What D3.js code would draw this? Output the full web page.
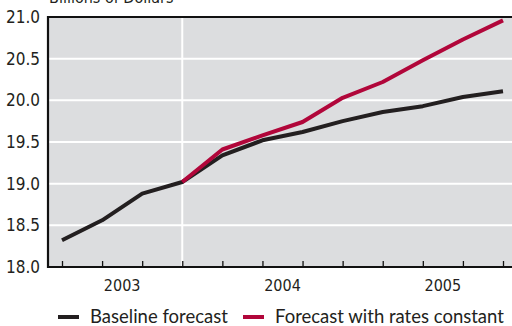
<!DOCTYPE html>
<html>
<head>
<meta charset="utf-8">
<script src="https://cdn.jsdelivr.net/npm/d3@7"></script>
<style>
  html, body { margin: 0; padding: 0; background: #fff; }
  svg { display: block; }
  .cond { font-family: 'Liberation Sans Narrow', 'DejaVu Sans Condensed', sans-serif; font-stretch: condensed; }
  .legend { font-family: 'Lato', 'Open Sans', sans-serif; }
</style>
</head>
<body>
<svg id="chart" width="512" height="326"></svg>
<script>
// Quarterly revenue, billions of dollars
const quarters = ["2003Q1","2003Q2","2003Q3","2003Q4",
                  "2004Q1","2004Q2","2004Q3","2004Q4",
                  "2005Q1","2005Q2","2005Q3","2005Q4"];
const years = ["2003", "2004", "2005"];
const baseline = [18.32, 18.56, 18.88, 19.02, 19.34, 19.52, 19.62, 19.75, 19.86, 19.93, 20.04, 20.11];
const ratesConstant = [null, null, null, 19.02, 19.41, 19.58, 19.74, 20.03, 20.22, 20.48, 20.73, 20.96];
const yTicks = [18.0, 18.5, 19.0, 19.5, 20.0, 20.5, 21.0];
const forecastStart = "2003Q4";
const yTitle = "Billions of Dollars";
const seriesNames = ["Baseline forecast", "Forecast with rates constant"];
const colors = { baseline: "#231f20", constant: "#b1063a", panel: "#dcdddf", grid: "#ffffff" };

const svg = d3.select("#chart");
const plot = { left: 48, right: 512, top: 17, bottom: 267 };

const x = d3.scalePoint().domain(quarters).range([62, 503]);
const y = d3.scaleLinear().domain([18, 21]).range([plot.bottom, plot.top]);

// panel background
svg.append("rect")
  .attr("x", plot.left).attr("y", plot.top)
  .attr("width", plot.right - plot.left).attr("height", plot.bottom - plot.top)
  .attr("fill", colors.panel);

// horizontal gridlines
svg.append("g").selectAll("line")
  .data(yTicks.filter(v => v > 18 && v < 21))
  .join("line")
  .attr("x1", plot.left).attr("x2", plot.right)
  .attr("y1", d => y(d)).attr("y2", d => y(d))
  .attr("stroke", colors.grid).attr("stroke-width", 2);

// start of forecast
svg.append("line")
  .attr("x1", x(forecastStart)).attr("x2", x(forecastStart))
  .attr("y1", plot.top).attr("y2", plot.bottom)
  .attr("stroke", colors.grid).attr("stroke-width", 2);

// frame: top, left, bottom
svg.append("path")
  .attr("d", `M${plot.right},${plot.top}H${plot.left}V${plot.bottom}H${plot.right}`)
  .attr("fill", "none").attr("stroke", "#111").attr("stroke-width", 2.2);

// quarter ticks on the bottom axis
const xAxis = d3.axisTop(x).tickSize(6).tickFormat("");
const gx = svg.append("g").attr("transform", `translate(0,${plot.bottom})`).call(xAxis);
gx.select(".domain").remove();
gx.selectAll(".tick line").attr("stroke", "#111").attr("stroke-width", 1.3);

// year labels centred under their quarters
svg.append("g").selectAll("text")
  .data(years)
  .join("text")
  .attr("class", "cond")
  .attr("x", yr => d3.mean(quarters.filter(q => q.startsWith(yr)), q => x(q)))
  .attr("y", 291)
  .attr("text-anchor", "middle")
  .attr("font-size", 16)
  .attr("fill", "#231f20")
  .text(d => d);

// y axis labels
const yAxis = d3.axisLeft(y).tickValues(yTicks).tickSize(0).tickPadding(8).tickFormat(d3.format(".1f"));
const gy = svg.append("g").attr("transform", `translate(${plot.left},0)`).call(yAxis);
gy.select(".domain").remove();
gy.selectAll("text")
  .attr("class", "cond")
  .attr("font-size", 17)
  .attr("fill", "#231f20")
  .attr("font-family", null);

// axis title (partly above the page)
svg.append("text")
  .attr("class", "cond")
  .attr("x", 49).attr("y", 3)
  .attr("font-size", 16)
  .attr("fill", "#231f20")
  .text(yTitle);

// series lines
const line = d3.line()
  .defined(d => d.v != null)
  .x(d => x(d.q))
  .y(d => y(d.v));

svg.append("path")
  .datum(quarters.map((q, i) => ({ q, v: baseline[i] })))
  .attr("d", line)
  .attr("fill", "none").attr("stroke", colors.baseline)
  .attr("stroke-width", 4).attr("stroke-linejoin", "round");

svg.append("path")
  .datum(quarters.map((q, i) => ({ q, v: ratesConstant[i] })))
  .attr("d", line)
  .attr("fill", "none").attr("stroke", colors.constant)
  .attr("stroke-width", 4).attr("stroke-linejoin", "round");

// legend
const legend = [
  { name: seriesNames[0], color: colors.baseline, x: 58 },
  { name: seriesNames[1], color: colors.constant, x: 243 }
];
const lg = svg.append("g").selectAll("g").data(legend).join("g")
  .attr("transform", d => `translate(${d.x},317)`);
lg.append("line")
  .attr("x1", 0).attr("x2", 21).attr("y1", 0).attr("y2", 0)
  .attr("stroke", d => d.color).attr("stroke-width", 4);
lg.append("text")
  .attr("class", "legend")
  .attr("x", 32).attr("y", 6)
  .attr("font-size", 18.5)
  .attr("fill", "#231f20")
  .text(d => d.name);
</script>
</body>
</html>
